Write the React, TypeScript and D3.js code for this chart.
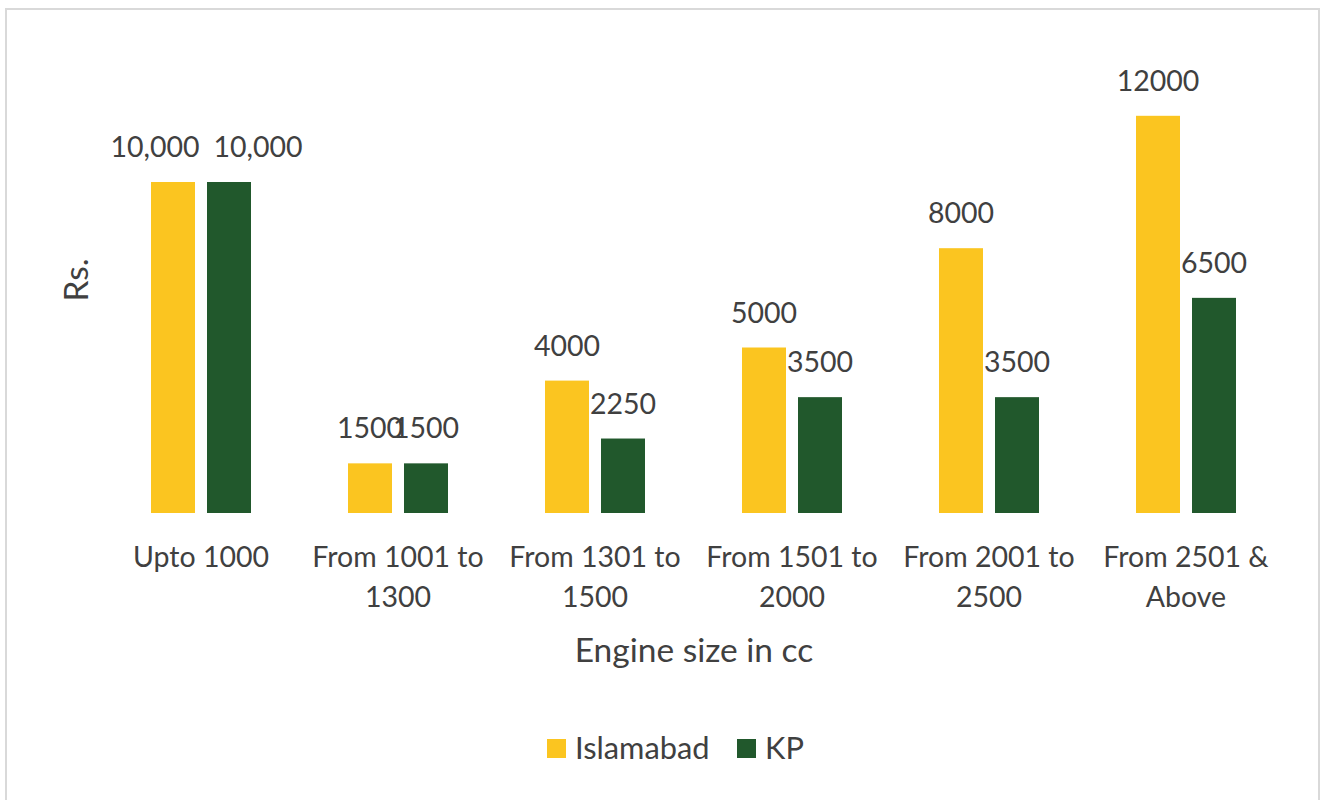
import React from "react";
import * as d3 from "d3";

const categories: string[][] = [
  ["Upto 1000"],
  ["From 1001 to", "1300"],
  ["From 1301 to", "1500"],
  ["From 1501 to", "2000"],
  ["From 2001 to", "2500"],
  ["From 2501 &", "Above"],
];
const seriesNames = ["Islamabad", "KP"];
const islamabad = [10000, 1500, 4000, 5000, 8000, 12000];
const kp = [10000, 1500, 2250, 3500, 3500, 6500];
const xTitle = "Engine size in cc";
const yTitle = "Rs.";

const W = 1324;
const H = 800;
const colors = ["#FBC520", "#21582C"];
const textColor = "#404040";
const font = "Lato, 'Open Sans', sans-serif";
const fs = 28.5;
const titleFs = 33.5;
const legendFs = 30.8;

export default function App() {
  const x0 = d3
    .scaleBand<number>()
    .domain(d3.range(categories.length))
    .range([102.5, 1284.5])
    .padding(0);
  const x1 = d3
    .scaleBand<number>()
    .domain([0, 1])
    .range([x0.bandwidth() / 2 - 50, x0.bandwidth() / 2 + 50])
    .paddingInner(12 / 56)
    .paddingOuter(0);
  const y = d3.scaleLinear().domain([0, 10000]).range([513, 182]);
  const series = [islamabad, kp];
  const fmt = (v: number, i: number) => (i === 0 ? d3.format(",")(v) : String(v));
  // the first group's value labels sit spread apart from their bars
  const labelShift = (ci: number, si: number) => (ci === 0 ? (si === 0 ? -18 : 29) : 0);

  return (
    <svg
      width={W}
      height={H}
      style={{ position: "absolute", left: 0, top: 0, background: "#fff" }}
      fontFamily={font}
    >
      <rect x={6} y={9} width={1313} height={H} fill="#fff" stroke="#d9d9d9" strokeWidth={2} />
      {categories.map((cat, ci) => (
        <g key={ci} transform={`translate(${x0(ci)},0)`}>
          {series.map((vals, si) => {
            const bx = x1(si)!;
            const bw = x1.bandwidth();
            return (
              <g key={si}>
                <rect
                  x={bx}
                  y={y(vals[ci])}
                  width={bw}
                  height={y(0) - y(vals[ci])}
                  fill={colors[si]}
                />
                <text
                  x={bx + bw / 2 + labelShift(ci, si)}
                  y={y(vals[ci]) - 25}
                  textAnchor="middle"
                  fontSize={fs}
                  fill={textColor}
                >
                  {fmt(vals[ci], ci)}
                </text>
              </g>
            );
          })}
          {cat.map((line, li) => (
            <text
              key={li}
              x={x0.bandwidth() / 2}
              y={567 + li * 40}
              textAnchor="middle"
              fontSize={fs}
              fill={textColor}
            >
              {line}
            </text>
          ))}
        </g>
      ))}
      <text x={694} y={662} textAnchor="middle" fontSize={titleFs} fill={textColor}>
        {xTitle}
      </text>
      <text
        transform="translate(88,280) rotate(-90)"
        textAnchor="middle"
        fontSize={titleFs}
        fill={textColor}
      >
        {yTitle}
      </text>
      {seriesNames.map((name, i) => {
        const lx = i === 0 ? 547 : 737;
        return (
          <g key={name}>
            <rect x={lx} y={739} width={19} height={19} fill={colors[i]} />
            <text x={lx + 28} y={759} fontSize={legendFs} fill={textColor}>
              {name}
            </text>
          </g>
        );
      })}
    </svg>
  );
}
